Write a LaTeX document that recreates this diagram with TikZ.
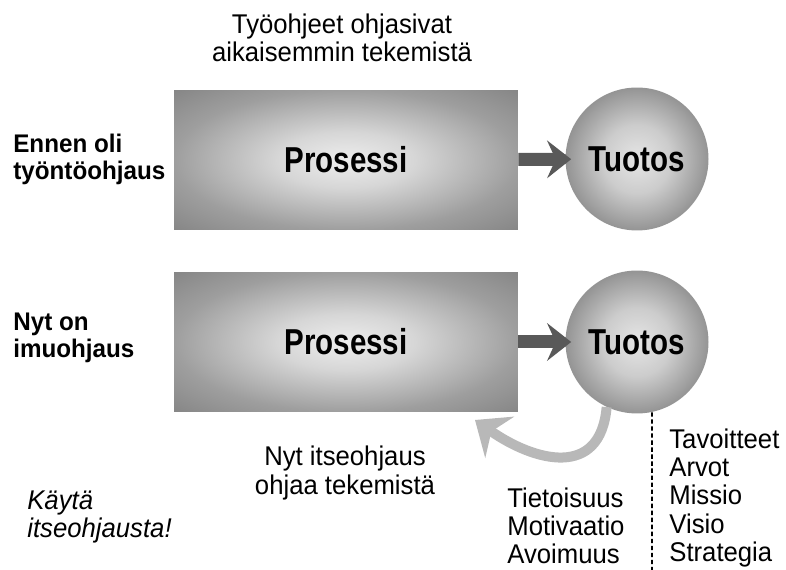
\documentclass[tikz,border=0pt]{standalone}
\usepackage{fontspec}
\setmainfont{Liberation Sans}[FakeStretch=0.95]
\newfontfamily\condfont{Liberation Sans}[FakeStretch=0.82]
\usetikzlibrary{arrows.meta}
\pgfdeclareradialshading{procshade}{\pgfpoint{0bp}{0bp}}{color(0bp)=(black!7); color(10bp)=(black!16); color(25bp)=(black!38); color(36bp)=(black!48); color(50bp)=(black!48)}
\pgfdeclareradialshading{prodshade}{\pgfpoint{0bp}{0bp}}{color(0bp)=(black!10); color(12bp)=(black!20); color(25bp)=(black!42); color(50bp)=(black!42)}
\tikzstyle{proc}=[rectangle, minimum width=6.88cm, minimum height=2.8cm, inner sep=0pt, shading=procshade, font=\condfont\bfseries\fontsize{20.5}{22}\selectfont]
\tikzstyle{prod}=[circle, minimum size=2.86cm, inner sep=0pt, shading=prodshade, font=\condfont\bfseries\fontsize{20.5}{22}\selectfont]
\tikzstyle{annot}=[inner sep=0pt, align=left, font=\fontsize{15.4}{16}\selectfont]
\tikzstyle{rowlabel}=[annot, font=\bfseries\fontsize{14.5}{15.4}\selectfont]
\tikzstyle{fwd}=[line width=0.26cm, black!65, -{Stealth[length=0.48cm, width=0.75cm, inset=0.17cm]}, shorten >=-0.12cm]
\tikzstyle{back}=[line width=0.2cm, black!28, -{Stealth[length=0.6cm, width=1cm, inset=0.2cm]}]
\tikzstyle{divider}=[dash pattern=on 2.5pt off 1.5pt, line width=1pt]

\begin{document}
\begin{tikzpicture}[x=0.02cm, y=0.02cm]

\useasboundingbox (0,0) rectangle (786,570);

\node [annot, align=center] (title) at (342, 532) {Työohjeet ohjasivat\\aikaisemmin tekemistä};

\node [proc] (P1) at (346, 410) {Prosessi};
\node [prod] (T1) at (637, 411) {Tuotos};
\node [proc] (P2) at (346, 228) {Prosessi};
\node [prod] (T2) at (637, 228) {Tuotos};

\node [rowlabel, anchor=west] (lab1) at (13, 411) {Ennen oli\\työntöohjaus};
\node [rowlabel, anchor=west] (lab2) at (13, 232) {Nyt on\\imuohjaus};

\node [annot, align=center] (selfctl) at (345, 97) {Nyt itseohjaus\\ohjaa tekemistä};
\node [annot, anchor=west, font=\itshape\fontsize{15.4}{16}\selectfont] (hint) at (27, 53) {Käytä\\itseohjausta!};
\node [annot, anchor=west] (soft) at (507, 44) {Tietoisuus\\Motivaatio\\Avoimuus};
\node [annot, anchor=west] (goals) at (669, 72) {Tavoitteet\\Arvot\\Missio\\Visio\\Strategia};

\coordinate (ret) at (475, 150);
\coordinate (dashend) at (652, 0);

\draw [fwd] (P1) -- (T1);
\draw [fwd] (P2) -- (T2);

\draw [back] (T2.-115) to [out=-95, in=-35, looseness=1.4] (ret);

\draw [divider] (T2.-78) -- (dashend);

\end{tikzpicture}
\end{document}
